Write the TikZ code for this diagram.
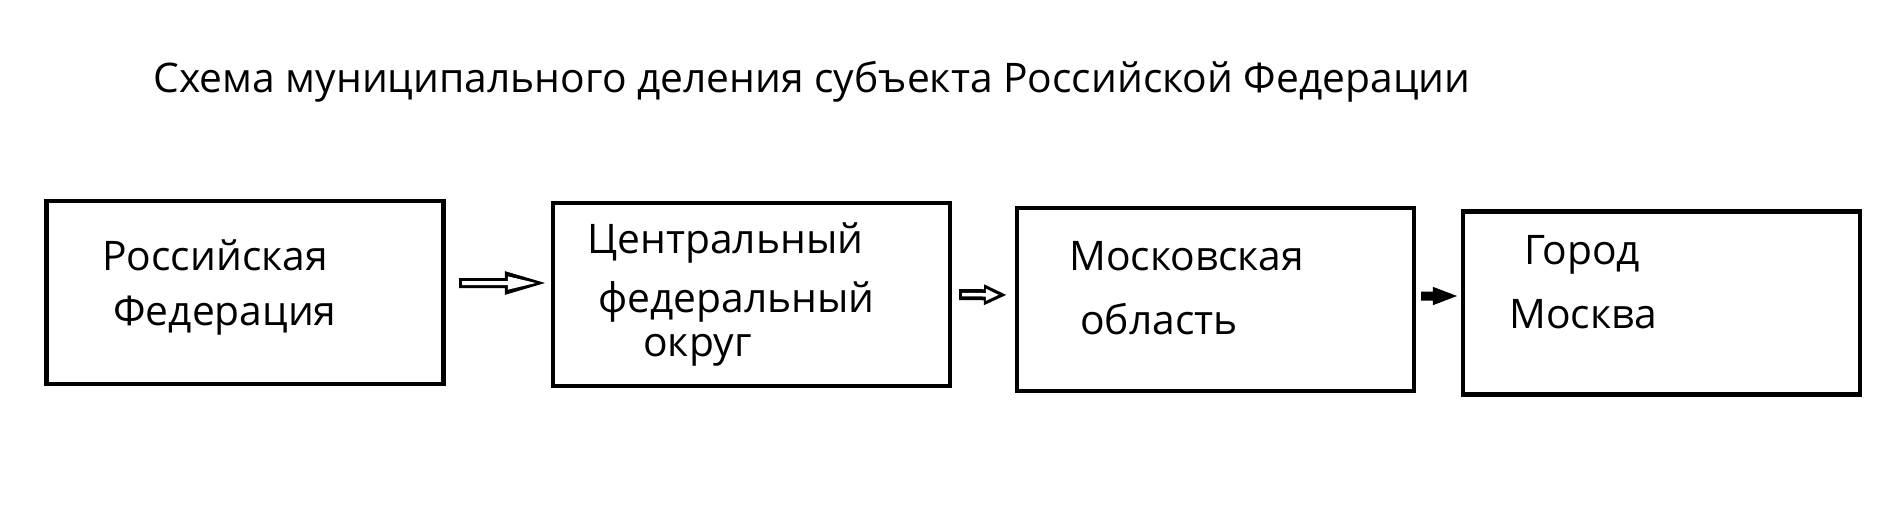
\documentclass[tikz,border=0pt]{standalone}
\usepackage{fontspec}
\setmainfont{Open Sans}
\usepackage{tikz}
\usetikzlibrary{arrows.meta}

\begin{document}
\begin{tikzpicture}[x=0.02cm, y=-0.02cm,
        box/.style={draw=black, line width=2.4pt, minimum width=7.94cm, minimum height=3.66cm, inner sep=0pt},
        lbl/.style={anchor=base west, inner sep=0pt, font=\fontsize{23.2}{27}\selectfont},
        bigout/.style={line width=0.2cm, -{Triangle[length=0.92cm, width=0.4cm]}},
        bigin/.style={white, line width=0.08cm, -{Triangle[length=0.58cm, width=0.24cm]}},
        smallout/.style={line width=0.22cm, -{Triangle[length=0.46cm, width=0.38cm]}},
        smallin/.style={white, line width=0.07cm, -{Triangle[length=0.26cm, width=0.22cm]}},
        solid arrow/.style={line width=0.18cm, -{Triangle[length=0.52cm, width=0.32cm]}}]
            \useasboundingbox (0, 0) rectangle (1879, 518);

            \node (title) [lbl] at (153, 92) {Схема муниципального деления субъекта Российской Федерации};

            \node (rf) [box] at (245, 292.5) {};
            \node (cfo) [box] at (751.5, 294.5) {};
            \node (mo) [box] at (1215.5, 299.5) {};
            \node (msk) [box] at (1661.5, 303) {};

            \node (rf1) [lbl] at (102, 270) {Российская};
            \node (rf2) [lbl] at (113, 325) {Федерация};
            \node (cfo1) [lbl] at (587, 253) {Центральный};
            \node (cfo2) [lbl] at (598, 312) {федеральный};
            \node (cfo3) [lbl] at (643, 356) {округ};
            \node (mo1) [lbl] at (1069, 270) {Московская};
            \node (mo2) [lbl] at (1080, 334) {область};
            \node (msk1) [lbl] at (1524, 264) {Город};
            \node (msk2) [lbl] at (1509, 328) {Москва};

            % hollow arrows: black body, then white inside
            \draw [bigout, shorten <=0.27cm, shorten >=0cm] ([yshift=0.19cm]rf.east) -- ([yshift=0.23cm]cfo.west);
            \draw [bigin, shorten <=0.33cm, shorten >=0.28cm] ([yshift=0.19cm]rf.east) -- ([yshift=0.23cm]cfo.west);
            \draw [smallout, shorten <=0.14cm, shorten >=0.16cm] (cfo.east) -- ([yshift=0.09cm]mo.west);
            \draw [smallin, shorten <=0.2cm, shorten >=0.32cm] (cfo.east) -- ([yshift=0.09cm]mo.west);
            \draw [solid arrow, shorten <=0.1cm, shorten >=0.04cm] ([yshift=0.07cm]mo.east) -- ([yshift=0.14cm]msk.west);
        \end{tikzpicture}
\end{document}
